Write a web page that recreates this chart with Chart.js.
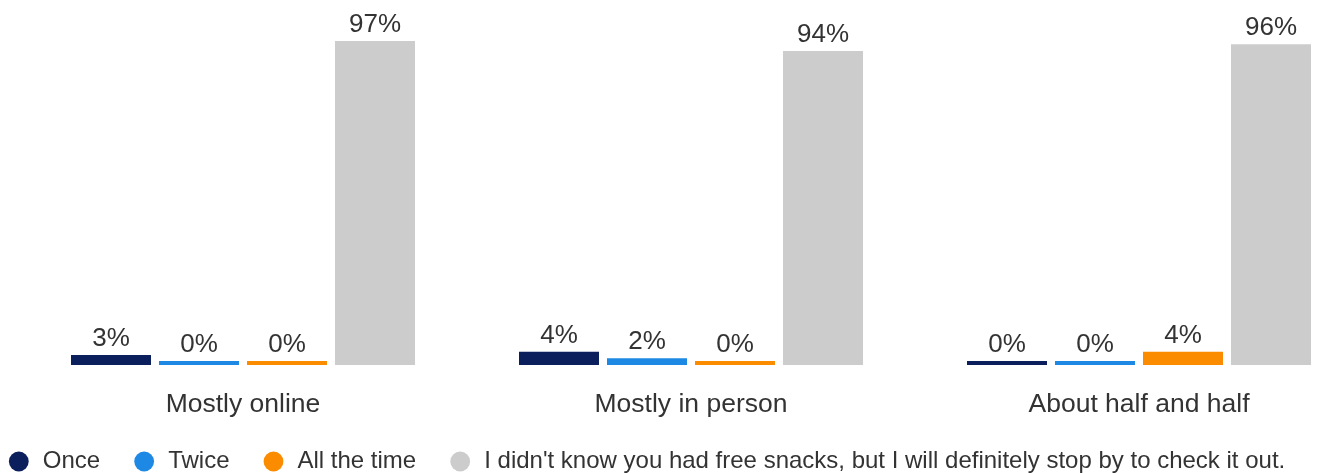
<!DOCTYPE html>
<html>
<head>
<meta charset="utf-8">
<script src="https://cdn.jsdelivr.net/npm/chart.js@4"></script>
<style>
    html, body { margin: 0; padding: 0; background: #fff; overflow: hidden; }
    #wrap { width: 1317px; height: 473px; position: relative; }
</style>
</head>
<body>
<div id="wrap"><canvas id="canvas1"></canvas></div>
<script>
const categories = ["Mostly online", "Mostly in person", "About half and half"];
const seriesNames = ["Once", "Twice", "All the time", "I didn't know you had free snacks, but I will definitely stop by to check it out."];
const once = [3, 4, 0];
const twice = [0, 2, 0];
const allTheTime = [0, 0, 4];
const didntKnow = [97, 94, 96];
const colors = ['#0a1f5c', '#1e88e5', '#fb8c00', '#cccccc'];

const textColor = '#333333';
const fontFamily = "'Liberation Sans', Arial, sans-serif";

function points(values) {
    return values.map((v, i) => ({ x: i, y: v }));
}

// draws the "97%" style labels above every bar
const barLabels = {
    id: 'barLabels',
    afterDatasetsDraw(chart) {
        const ctx = chart.ctx;
        ctx.save();
        ctx.font = '26px ' + fontFamily;
        ctx.fillStyle = textColor;
        ctx.textAlign = 'center';
        ctx.textBaseline = 'alphabetic';
        chart.data.datasets.forEach((ds, i) => {
            chart.getDatasetMeta(i).data.forEach((bar, j) => {
                ctx.fillText(ds.data[j].y + '%', bar.x, bar.y - 9);
            });
        });
        ctx.restore();
    }
};

function SnackChart() {
    const allSeries = [once, twice, allTheTime, didntKnow];
    const data = {
        datasets: allSeries.map((values, i) => ({
            label: seriesNames[i],
            data: points(values),
            backgroundColor: colors[i],
            borderColor: colors[i],
            borderWidth: 0,
            minBarLength: 4,
            categoryPercentage: 352 / 448,
            barPercentage: 80 / 88
        }))
    };
    // negative side padding only widens the legend so it stays on one line
    const config = {
        type: 'bar',
        data: data,
        options: {
            responsive: true,
            maintainAspectRatio: false,
            animation: false,
            layout: {
                padding: { top: 31, left: -37, right: -12, bottom: -10.5 }
            },
            plugins: {
                tooltip: { enabled: false },
                legend: {
                    position: 'bottom',
                    labels: {
                        usePointStyle: true,
                        pointStyle: 'circle',
                        boxWidth: 24,
                        boxHeight: 14,
                        padding: 32,
                        color: textColor,
                        font: { family: fontFamily, size: 24 }
                    }
                }
            },
            scales: {
                x: {
                    type: 'linear',
                    offset: false,
                    min: -243 / 448,
                    max: 1074 / 448,
                    grid: {
                        display: true,
                        drawOnChartArea: false,
                        color: 'rgba(0,0,0,0)',
                        drawTicks: true,
                        tickLength: 26.5
                    },
                    border: { display: false },
                    afterBuildTicks: axis => {
                        axis.ticks = categories.map((c, i) => ({ value: i }));
                    },
                    ticks: {
                        padding: 1,
                        color: textColor,
                        font: { family: fontFamily, size: 26.5, lineHeight: '24px' },
                        callback: value => categories[value]
                    }
                },
                y: {
                    display: false,
                    min: 0,
                    max: 100
                }
            }
        },
        plugins: [barLabels]
    };

    const canvas = document.getElementById('canvas1');
    const chart = new Chart(canvas, config);
    window.addEventListener('resize', function () { chart.resize() });
}

SnackChart();
</script>
</body>
</html>
